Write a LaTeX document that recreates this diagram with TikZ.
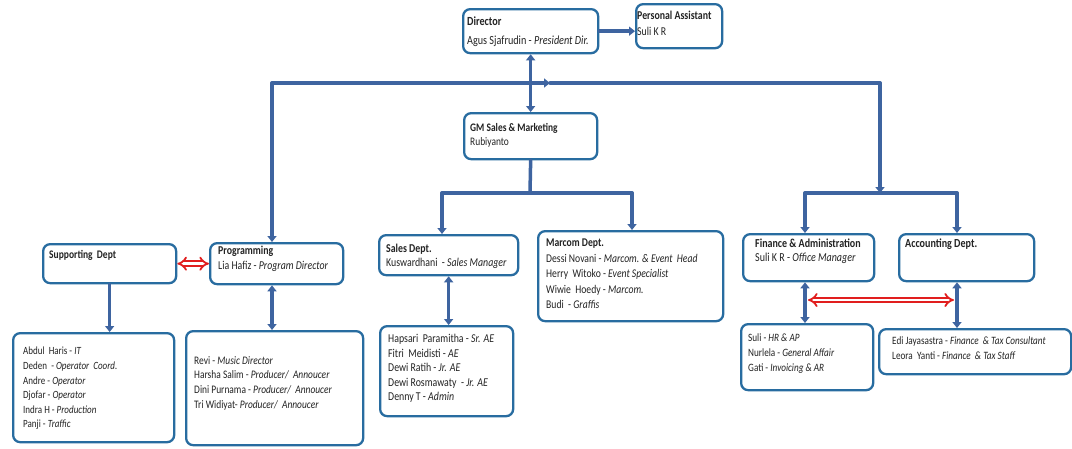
\documentclass[tikz,border=0pt]{standalone}
\usepackage{fontspec}
\setmainfont{Carlito}[FakeStretch=0.82]
\usetikzlibrary{arrows.meta,calc}
\definecolor{boxc}{RGB}{40,108,160}
\definecolor{linec}{RGB}{62,100,160}
\definecolor{redc}{RGB}{225,30,30}
\definecolor{txtc}{RGB}{35,35,35}
\newcommand{\fs}[2]{\fontsize{#1}{#2}\selectfont}
\begin{document}
\begin{tikzpicture}[x=1pt,y=-1pt,
 box/.style={draw=boxc, line width=2.3pt, rounded corners=7pt, fill=white, anchor=north west, inner sep=0pt},
 txt/.style={anchor=north west, align=left, inner sep=0pt, font=\fs{10.5}{14.6}, text=txtc},
 conn/.style={draw=linec, line width=3.5pt, line cap=round},
 arr/.style={conn, -{Triangle[length=6pt,width=9pt]}},
 darr/.style={conn, {Triangle[length=6pt,width=9pt]}-{Triangle[length=6pt,width=9pt]}},
 redarr/.style={draw=redc, double=white, double distance=2.8pt, line width=1.8pt, {Implies}-{Implies}}
]
\fill[white] (0,0) rectangle (1072,448);
\useasboundingbox (0,0) rectangle (1072,448);

% boxes
\node[box, minimum width=135pt, minimum height=44pt] (dir) at (462,8) {};
\node[box, minimum width=86pt, minimum height=44pt] (pa) at (635,3) {};
\node[box, minimum width=133pt, minimum height=46pt] (gm) at (463,112) {};
\node[box, minimum width=133pt, minimum height=39pt] (sup) at (42,243) {};
\node[box, minimum width=133pt, minimum height=41pt] (prog) at (209,242) {};
\node[box, minimum width=139pt, minimum height=40pt] (sales) at (378,234) {};
\node[box, minimum width=185pt, minimum height=90pt] (marcom) at (537,230) {};
\node[box, minimum width=131pt, minimum height=47pt] (fin) at (742,233) {};
\node[box, minimum width=135pt, minimum height=47pt] (acc) at (898,233) {};
\node[box, minimum width=161pt, minimum height=109pt] (suplow) at (12,332) {};
\node[box, minimum width=177pt, minimum height=114pt] (proglow) at (185,330) {};
\node[box, minimum width=133pt, minimum height=90pt] (saleslow) at (379,325) {};
\node[box, minimum width=132pt, minimum height=66pt] (finlow) at (740,323) {};
\node[box, minimum width=192pt, minimum height=45pt] (acclow) at (878,328) {};

% texts
\node[txt, font=\fs{12.4}{19}] (dirT) at (467,17) {\textbf{Director}\\Agus Sjafrudin - \textit{President Dir.}};
\node[txt, font=\fs{12}{16}] (paT) at (637,11) {\textbf{Personal Assistant}\\Suli K R};
\node[txt, font=\fs{11.5}{14}] (gmT) at (470,123) {\textbf{GM Sales \& Marketing}\\Rubiyanto};
\node[txt, font=\fs{11.6}{14}] (supT) at (49,250) {\textbf{Supporting\ \ Dept}};
\node[txt, font=\fs{12}{15}] (progT) at (218,246) {\textbf{Programming}\\Lia Hafiz - \textit{Program Director}};
\node[txt, font=\fs{12}{13.5}] (salesT) at (386,244) {\textbf{Sales Dept.}\\Kuswardhani\ \ - \textit{Sales Manager}};
\node[txt, font=\fs{11.8}{15.5}] (marcomT) at (546,239) {\textbf{Marcom Dept.}\\Dessi Novani - \textit{Marcom. \& Event\ \ Head}\\Herry\ \ Witoko - \textit{Event Specialist}\\Wiwie\ \ Hoedy - \textit{Marcom.}\\Budi\ \ - \textit{Graffis}};
\node[txt, font=\fs{12.2}{13.5}] (finT) at (755,239) {\textbf{Finance \& Administration}\\Suli K R - \textit{Office Manager}};
\node[txt, font=\fs{12.3}{14}] (accT) at (905,239) {\textbf{Accounting Dept.}};
\node[txt, font=\fs{11}{14.6}] (suplowT) at (23,347) {Abdul\ \ Haris - \textit{IT}\\Deden\ \ - \textit{Operator\ \ Coord.}\\Andre - \textit{Operator}\\Djofar - \textit{Operator}\\Indra H - \textit{Production}\\Panji - \textit{Traffic}};
\node[txt, font=\fs{11.5}{14.7}] (proglowT) at (194,356) {Revi - \textit{Music Director}\\Harsha Salim - \textit{Producer/\ \ Annoucer}\\Dini Purnama - \textit{Producer/\ \ Annoucer}\\Tri Widiyat- \textit{Producer/\ \ Annoucer}};
\node[txt, font=\fs{12}{14.5}] (saleslowT) at (388,334) {Hapsari\ \ Paramitha - \textit{Sr. AE}\\Fitri\ \ Meidisti - \textit{AE}\\Dewi Ratih - \textit{Jr. AE}\\Dewi Rosmawaty\ \ - \textit{Jr. AE}\\Denny T - \textit{Admin}};
\node[txt, font=\fs{11.2}{15}] (finlowT) at (748,334) {Suli - \textit{HR \& AP}\\Nurlela - \textit{General Affair}\\Gati - \textit{Invoicing \& AR}};
\node[txt, font=\fs{11.2}{15}] (acclowT) at (892,337) {Edi Jayasastra - \textit{Finance\ \ \& Tax Consultant}\\Leora\ \ Yanti - \textit{Finance\ \ \& Tax Staff}};

% connector coordinates
\coordinate (barL) at (272,83);
\coordinate (barM) at (550,83);
\coordinate (barR) at (880,83);
\coordinate (fbarM) at (880,193);
\coordinate (fbarL) at (805,193);
\coordinate (fbarR) at (957,193);
\coordinate (sbarM) at (530,193);
\coordinate (sbarL) at (442,193);
\coordinate (sbarR) at (632,193);
\coordinate (redL) at (808,300);
\coordinate (redR) at (954,300);

% connectors
\draw[arr] (dir.east) -- (dir.east -| pa.west);
\draw[darr] (dir.south) -- (gm.north);
\draw[arr] (barL) -- (barM);
\draw[conn] (barM) -- (barR);
\draw[arr] (barL) -- (barL |- prog.north);
\draw[arr] (barR) -- (fbarM);
\draw[conn] (fbarL) -- (fbarR);
\draw[arr] (fbarL) -- (fbarL |- fin.north);
\draw[arr] (fbarR) -- (fbarR |- acc.north);
\draw[conn] (gm.south) -- (sbarM);
\draw[conn] (sbarL) -- (sbarR);
\draw[arr] (sbarL) -- (sbarL |- sales.north);
\draw[arr] (sbarR) -- (sbarR |- marcom.north);
\draw[arr] (sup.south) -- (sup.south |- suplow.north);
\draw[darr] (barL |- prog.south) -- (barL |- proglow.north);
\draw[darr] (sales.south) -- (sales.south |- saleslow.north);
\draw[darr] (fbarL |- fin.south) -- (fbarL |- finlow.north);
\draw[darr] (fbarR |- acc.south) -- (fbarR |- acclow.north);
\draw[redarr] (sup.east) -- (prog.west);
\draw[redarr] (redL) -- (redR);
\end{tikzpicture}
\end{document}
